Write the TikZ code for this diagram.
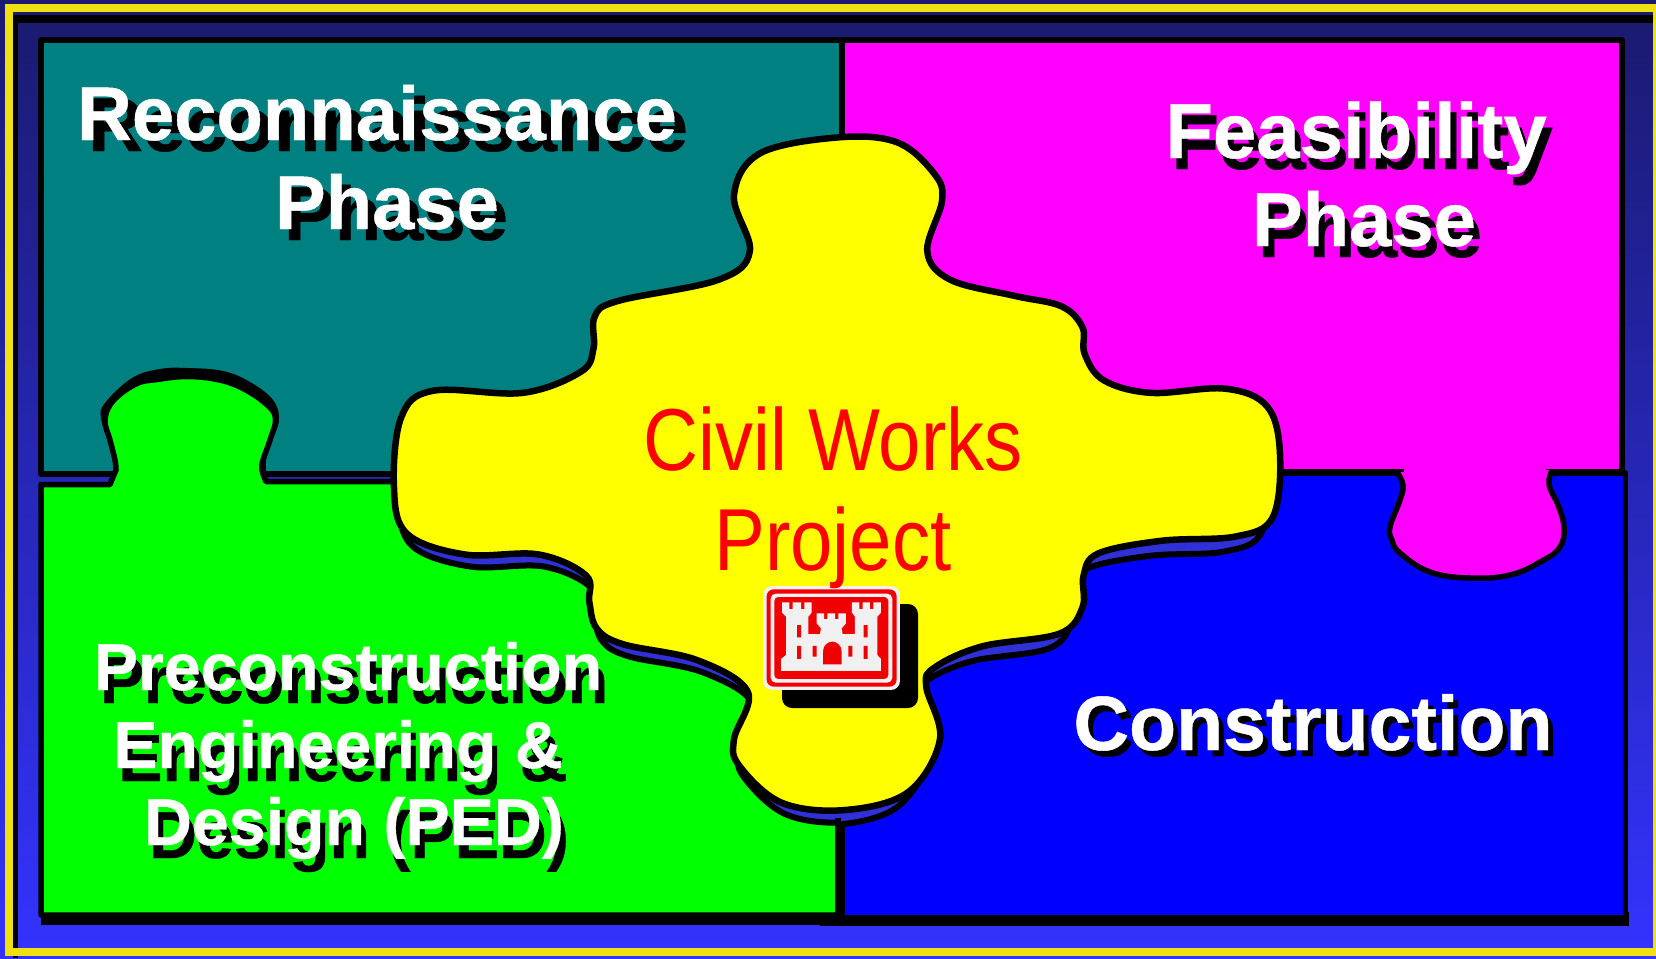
\documentclass[tikz,border=0pt]{standalone}
\usepackage{fontspec}
\setmainfont{Liberation Sans}
\newfontfamily\labfont[FakeBold=0.6]{Liberation Sans Bold}
\usetikzlibrary{calc}
\definecolor{teal0}{HTML}{008080}
\definecolor{gap}{HTML}{3030D8}
\definecolor{frameY}{HTML}{EEE011}
\definecolor{navyT}{HTML}{1A1A6E}
\definecolor{navyB}{HTML}{3333FF}
\definecolor{logoW}{HTML}{F0F0F0}
\definecolor{logoR}{HTML}{F00000}
\definecolor{pieceY}{HTML}{FFFF00}
\definecolor{pieceM}{HTML}{FF00FF}
\definecolor{pieceG}{HTML}{00FF00}
\definecolor{pieceB}{HTML}{0000FF}
\definecolor{redT}{HTML}{FF0000}
\tikzset{
  panel/.style={draw=black,line width=5.5pt,line join=round},
  txt/.style={inner sep=0pt,anchor=base,align=center},
  px/.style={x=1.0561pt,y=-1.0561pt},
  lz/.style={shift={(720,560)},x=0.3333pt,y=-0.3333pt},
}
\newcommand{\yellowpts}{(795,130)(850,135)(885,165)(892,190)(878,238)(900,265)(960,280)(1005,290)(1025,310)(1027,335)(1045,360)(1090,372)(1160,368)(1200,385)(1212,430)(1205,490)(1170,508)(1100,512)(1040,524)(1026,545)(1025,575)(1003,600)(930,612)(885,632)(877,650)(890,700)(860,750)(800,767)(740,760)(700,725)(695,700)(708,655)(660,625)(590,610)(565,595)(558,570)(555,545)(510,525)(440,525)(385,505)(373,460)(380,395)(410,370)(495,372)(550,352)(562,330)(563,300)(585,285)(680,265)(710,238)(695,185)(720,145)}
\newcommand{\tabpts}{(1397,472)(1403,485)(1400,500)(1390,527)(1392,540)(1400,553)(1430,572)(1470,578)(1510,575)(1542,561)(1560,547)(1564,527)(1558,505)(1549,485)(1552,470)}
\newcommand{\shtext}[7]{% name,x,y,size,dx,dy,text
  \node[txt,text=black] (#1s) at ($(#2,#3)+(#5,#6)$) {\fontsize{#4}{#4}\labfont #7};
  \node[txt,text=white] (#1) at (#2,#3) {\fontsize{#4}{#4}\labfont #7};
}
\begin{document}
\begin{tikzpicture}[x=1pt,y=-1pt]
\useasboundingbox (0,0) rectangle (1656,958);
\shade[top color=navyT,bottom color=navyB] (0,0) rectangle (1656,958);
% frame
\fill[black] (13,15) rectangle (1653,23);
\fill[black] (13,15) rectangle (18,958);
\fill[frameY] (5,4) rectangle (1656,12);
\fill[frameY] (5,4) rectangle (13,956);
\fill[frameY] (5,948) rectangle (1656,956);
\fill[frameY] (1653,12) rectangle (1656,956);
% teal and magenta
\draw[panel,fill=teal0] (41,40) rectangle (842,474);
\draw[panel,fill=pieceM] (842,40) rectangle (1622,472);
% blue
\fill[black] (820,912) rectangle (1629,926);
\draw[panel,fill=pieceB] (842,473) -- (1625.5,473) -- (1625.5,918) -- (842,918) -- cycle;
% magenta tab
\fill[black,xshift=1.5pt,yshift=-1.5pt] plot[smooth,tension=0.7] coordinates {\tabpts};
\path[fill=pieceM,draw=black,line width=5.5pt] plot[smooth,tension=0.7] coordinates {\tabpts};
\fill[pieceM] (1404,460) rectangle (1546,479);
% green
\fill[black] (41,905) rectangle (840,925);
\fill[black] plot[smooth,tension=0.65] coordinates {(111,487)(117,465)(108,440)(101,418)(105,403)(132,378)(160,369)(187,368)(223,371)(250,382)(273,400)(279,420)(272,440)(266,460)(267,483)};
\draw[panel,fill=pieceG] (41,484.5) -- (110,484.5) -- plot[smooth,tension=0.65] coordinates {(116,470)(115,460)(110,440)(105,420)(113,401)(136,384)(157,379.5)(187,376.5)(217,379.5)(241,387.5)(265,403)(275.5,418)(270,440)(263,460)(262,470)(266,481.5)} -- (838,481.5) -- (838,915) -- (41,915) -- cycle;
% shadows of central piece
\begin{scope}
\clip (0,0) rectangle (838,958);
\begin{scope}[px,xshift=5pt,yshift=-12pt]
\draw[black,fill=gap,line width=6pt] plot[smooth cycle,tension=0.6] coordinates {\yellowpts};
\end{scope}
\end{scope}
\begin{scope}
\clip (838,0) rectangle (1656,958);
\begin{scope}[px,xshift=-11pt,yshift=-15pt]
\draw[black,fill=gap,line width=6pt] plot[smooth cycle,tension=0.6] coordinates {\yellowpts};
\end{scope}
\end{scope}
\draw[black,line width=6pt] (838,818) -- (838,918);
% central piece
\begin{scope}[px]
\draw[black,fill=pieceY,line width=6.5pt] plot[smooth cycle,tension=0.6] coordinates {\yellowpts};
\end{scope}
% logo
\fill[black,rounded corners=10pt] (782,604) rectangle (918,708);
\begin{scope}[lz]
\fill[logoW,rounded corners=9pt] (130,78) rectangle (540,390);
\fill[logoR,rounded corners=7pt] (140,88) rectangle (530,380);
\fill[logoW,rounded corners=5pt] (152,101) rectangle (517,368);
\fill[logoR,rounded corners=4pt] (163,111) rectangle (505,357);
\fill[logoW] (183,333) -- (183,297) -- (198,285) -- (198,170) -- (186,158) -- (186,127) -- (208,127) -- (208,147) -- (218,147) -- (218,127) -- (243,127) -- (243,147) -- (253,147) -- (253,127) -- (275,127) -- (275,158) -- (265,170) -- (265,222) -- (300,222) -- (303,205) -- (290,190) -- (290,160) -- (312,160) -- (312,177) -- (322,177) -- (322,160) -- (345,160) -- (345,177) -- (355,177) -- (355,160) -- (378,160) -- (378,190) -- (365,205) -- (368,222) -- (405,222) -- (405,170) -- (396,158) -- (396,127) -- (418,127) -- (418,147) -- (428,147) -- (428,127) -- (450,127) -- (450,147) -- (460,147) -- (460,127) -- (483,127) -- (483,158) -- (472,170) -- (472,285) -- (483,297) -- (483,333) -- cycle;
\fill[logoR] (231,195) rectangle (243,232) (231,258) rectangle (243,297) (278,258) rectangle (290,290) (385,258) rectangle (397,290) (431,195) rectangle (443,232) (431,258) rectangle (443,297);
\fill[logoR] (309,313) -- (309,275) .. controls (309,255) and (325,245) .. (337,245) .. controls (349,245) and (365,255) .. (365,275) -- (365,313) -- cycle;
\end{scope}
% labels
\shtext{recon}{377}{140}{76}{11}{11}{Reconnaissance}
\shtext{phaseA}{387}{229}{76}{9}{11}{Phase}
\shtext{feas}{1356}{158}{78}{6}{11}{Feasibility}
\shtext{phaseB}{1364}{246}{76}{6}{11}{Phase}
\shtext{precon}{348}{690}{66.3}{6}{13}{Preconstruction}
\shtext{eng}{338}{768}{66.3}{5}{13}{Engineering \&}
\shtext{des}{354}{845}{66.3}{5}{13}{Design (PED)}
\shtext{cons}{1313}{750}{77}{5}{6}{Construction}
\node[txt,text=redT,xscale=0.865] (civil) at (833,470) {\fontsize{88}{88}\selectfont Civil Works};
\node[txt,text=redT,xscale=0.865] (proj) at (833,570) {\fontsize{88}{88}\selectfont Project};
\end{tikzpicture}
\end{document}
